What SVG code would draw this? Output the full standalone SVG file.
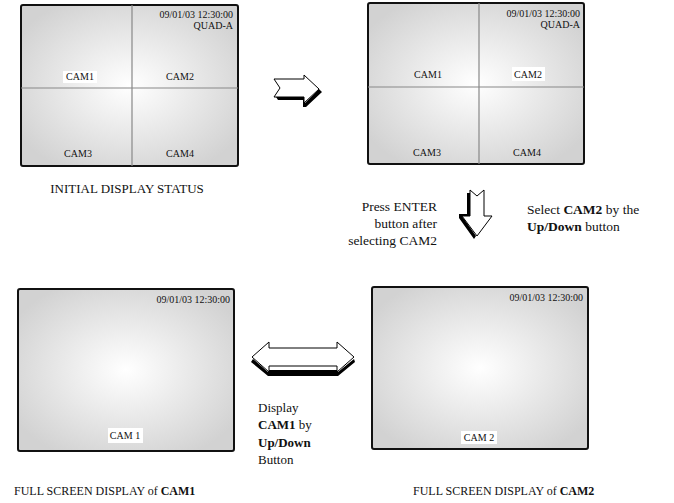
<svg xmlns="http://www.w3.org/2000/svg" width="674" height="503" viewBox="0 0 674 503">
<defs>
<radialGradient id="scr" cx="0.5" cy="0.5" r="0.6">
<stop offset="0" stop-color="#ffffff"/>
<stop offset="1" stop-color="#d2d2d2"/>
</radialGradient>
</defs>
<style>
.frame{fill:url(#scr);stroke:#111;stroke-width:2}
.div{stroke:#888;stroke-width:1.2}
.t{font-family:"Liberation Serif","Times New Roman",serif;fill:#111}
.s{font-size:10px}
.m{font-size:13px}
.m2{font-size:13.5px}
.b{font-weight:bold}
.hl{fill:#fff}
.arw{fill:#fff;stroke:#000;stroke-width:1}
.sh{fill:#000}
</style>
<g id="quad1">
<rect class="frame" x="21" y="5" width="217" height="161" rx="2"/>
<line class="div" x1="132" y1="5" x2="132" y2="166"/>
<line class="div" x1="21" y1="88" x2="238" y2="88"/>
<text class="t s" x="233" y="18" text-anchor="end">09/01/03 12:30:00</text>
<text class="t s" x="233" y="29" text-anchor="end">QUAD-A</text>
<rect class="hl" x="63" y="71" width="34" height="12"/>
<text class="t s" x="80" y="80" text-anchor="middle">CAM1</text>
<text class="t s" x="180" y="80" text-anchor="middle">CAM2</text>
<text class="t s" x="78" y="157" text-anchor="middle">CAM3</text>
<text class="t s" x="180" y="157" text-anchor="middle">CAM4</text>
<text class="t" font-size="13" x="127" y="193" text-anchor="middle">INITIAL DISPLAY STATUS</text>
</g>
<g id="quad2">
<rect class="frame" x="368" y="3" width="216" height="161" rx="2"/>
<line class="div" x1="479" y1="3" x2="479" y2="164"/>
<line class="div" x1="368" y1="87" x2="584" y2="87"/>
<text class="t s" x="580" y="17" text-anchor="end">09/01/03 12:30:00</text>
<text class="t s" x="580" y="28" text-anchor="end">QUAD-A</text>
<text class="t s" x="428" y="78" text-anchor="middle">CAM1</text>
<rect class="hl" x="512" y="67" width="33" height="14"/>
<text class="t s" x="528" y="78" text-anchor="middle">CAM2</text>
<text class="t s" x="427" y="156" text-anchor="middle">CAM3</text>
<text class="t s" x="527" y="156" text-anchor="middle">CAM4</text>
</g>
<g id="full1">
<rect class="frame" x="18" y="289" width="216" height="162" rx="2"/>
<text class="t s" x="230" y="303" text-anchor="end">09/01/03 12:30:00</text>
<rect class="hl" x="108" y="428" width="35" height="15"/>
<text class="t s" x="125" y="439" text-anchor="middle">CAM 1</text>
<text class="t" font-size="12" x="14" y="495">FULL SCREEN DISPLAY of <tspan class="b">CAM1</tspan></text>
</g>
<g id="full2">
<rect class="frame" x="372" y="287" width="216" height="162" rx="2"/>
<text class="t s" x="583" y="301" text-anchor="end">09/01/03 12:30:00</text>
<rect class="hl" x="461" y="431" width="36" height="13"/>
<text class="t s" x="479" y="441" text-anchor="middle">CAM 2</text>
<text class="t" font-size="12" x="413" y="495">FULL SCREEN DISPLAY of <tspan class="b">CAM2</tspan></text>
</g>
<g id="connectors">
<g id="arrow-right">
<path class="sh" d="M276,97 L305,97 L305,103 L319,89 L322,92 L306,107 L303,107 L303,100 L278,100 Z"/>
<path class="arw" d="M274,79 L304,79 L304,75 L319,89 L304,103 L304,97 L274,97 L280,88 Z"/>
</g>
<g id="arrow-down">
<path class="sh" d="M470,193 L470,216 L462,216 L476,236 L474,239 L459,218 L459,214 L467,214 L467,193 Z"/>
<path class="arw" d="M470,190 L477,196 L484,190 L484,216 L492,216 L477,236 L462,216 L470,216 Z"/>
</g>
<g id="arrow-both">
<path class="sh" d="M253,359 L268,372 L268,370 L338,370 L338,372 L354,359 L355,362 L338,376 L268,376 L251,362 Z"/>
<path class="arw" d="M252,357 L269,342 L269,348 L337,348 L337,342 L354,357 L337,372 L337,366 L269,366 L269,372 Z"/>
</g>
<text class="t m2" x="437" y="211" text-anchor="end">Press ENTER</text>
<text class="t m2" x="437" y="228" text-anchor="end">button after</text>
<text class="t m2" x="437" y="245" text-anchor="end">selecting CAM2</text>
<text class="t m2" x="527" y="214">Select <tspan class="b">CAM2</tspan> by the</text>
<text class="t m2" x="527" y="231"><tspan class="b">Up/Down</tspan> button</text>
<text class="t m" x="258" y="412">Display</text>
<text class="t m" x="258" y="429"><tspan class="b">CAM1</tspan> by</text>
<text class="t m" x="258" y="447"><tspan class="b">Up/Down</tspan></text>
<text class="t m" x="258" y="464">Button</text>
</g>
</svg>
